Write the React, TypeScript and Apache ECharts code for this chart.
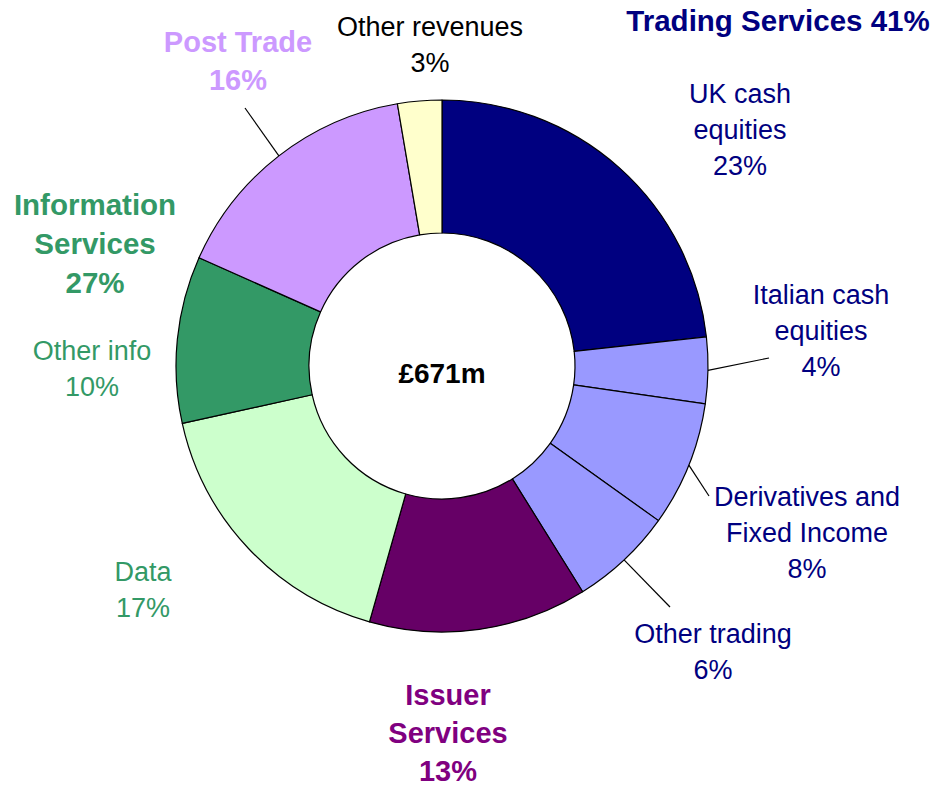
import React, { useEffect, useRef } from "react";
import * as echarts from "echarts";

const segments = [
  "UK cash equities",
  "Italian cash equities",
  "Derivatives and Fixed Income",
  "Other trading",
  "Issuer Services",
  "Data",
  "Other info",
  "Post Trade",
  "Other revenues",
];
// revenue in £m
const revenues = [156, 27, 51, 42, 89, 115, 68, 105, 18];
const sliceColors = [
  "#000080",
  "#9999FF",
  "#9999FF",
  "#9999FF",
  "#660066",
  "#CCFFCC",
  "#339966",
  "#CC99FF",
  "#FFFFCC",
];
const totalLabel = "£671m";

// label names (line-broken as in the chart)
const labelNames = [
  "UK cash\nequities",
  "Italian cash\nequities",
  "Derivatives and\nFixed Income",
  "Other trading",
  "Issuer\nServices",
  "Data",
  "Other info",
  "Post Trade",
  "Other revenues",
];
const labelBold = [false, false, false, false, true, false, false, true, false];
const labelColors = [
  "#000080",
  "#000080",
  "#000080",
  "#000080",
  "#800080",
  "#339966",
  "#339966",
  "#CC99FF",
  "#000000",
];
const labelPos = [
  [740, 130],
  [821, 331],
  [807, 533],
  [713, 652],
  [448, 733],
  [143, 590],
  [92, 369],
  [238, 61],
  [430, 45],
];
// leader lines: [segment index, end x, end y]
const leaders = [
  [1, 769, 358],
  [2, 709, 496],
  [3, 670, 607],
  [7, 245, 108],
];
// group titles: name, members, colour, position
const groups = [
  { name: "Trading Services", members: [0, 1, 2, 3], color: "#000080", x: 778, y: 20, sep: " " },
  { name: "Information\nServices", members: [5, 6], color: "#339966", x: 95, y: 243, sep: "\n" },
];

const CX = 442;
const CY = 366;
const R_IN = 133;
const R_OUT = 266;
const FONT = "'Liberation Sans', Arial, sans-serif";

export default function App() {
  const ref = useRef<HTMLDivElement>(null);
  useEffect(() => {
    if (!ref.current) return;
    const chart = echarts.init(ref.current, undefined, { renderer: "svg" });
    const total = revenues.reduce((a, b) => a + b, 0);
    const pct = (v: number) => Math.round((v / total) * 100) + "%";
    const cum: number[] = [];
    let acc = 0;
    revenues.forEach((v) => {
      cum.push(acc);
      acc += v;
    });
    const midAngle = (i: number) => ((cum[i] + revenues[i] / 2) / total) * 2 * Math.PI;

    const graphics: any[] = [];
    labelNames.forEach((t, i) => {
      graphics.push({
        type: "text",
        x: labelPos[i][0],
        y: labelPos[i][1],
        style: {
          text: t + "\n" + pct(revenues[i]),
          fill: labelColors[i],
          font: `${labelBold[i] ? "bold 29px" : "27px"} ${FONT}`,
          textAlign: "center",
          textVerticalAlign: "middle",
          lineHeight: labelBold[i] ? 38 : 36,
        },
      });
    });
    groups.forEach((g) => {
      const sum = g.members.reduce((a, i) => a + revenues[i], 0);
      graphics.push({
        type: "text",
        x: g.x,
        y: g.y,
        style: {
          text: g.name + g.sep + pct(sum),
          fill: g.color,
          font: `bold 29.5px ${FONT}`,
          textAlign: "center",
          textVerticalAlign: "middle",
          lineHeight: 39,
        },
      });
    });
    graphics.push({
      type: "text",
      x: CX,
      y: 373,
      style: {
        text: totalLabel,
        fill: "#000",
        font: `bold 28px ${FONT}`,
        textAlign: "center",
        textVerticalAlign: "middle",
      },
    });
    leaders.forEach(([idx, ex, ey]) => {
      const a = midAngle(idx);
      const sx = CX + R_OUT * Math.sin(a);
      const sy = CY - R_OUT * Math.cos(a);
      graphics.push({
        type: "line",
        shape: { x1: sx, y1: sy, x2: ex, y2: ey },
        style: { stroke: "#000", lineWidth: 1.2 },
      });
    });

    chart.setOption({
      animation: false,
      backgroundColor: "#fff",
      series: [
        {
          type: "pie",
          center: [CX, CY],
          radius: [R_IN, R_OUT],
          startAngle: 90,
          clockwise: true,
          label: { show: false },
          labelLine: { show: false },
          silent: true,
          itemStyle: { borderColor: "#000", borderWidth: 1.2 },
          data: segments.map((name, i) => ({
            name,
            value: revenues[i],
            itemStyle: { color: sliceColors[i] },
          })),
        },
      ],
      graphic: graphics,
    });
    return () => chart.dispose();
  }, []);
  return (
    <div
      ref={ref}
      style={{ position: "fixed", left: 0, top: 0, width: 939, height: 787 }}
    />
  );
}
